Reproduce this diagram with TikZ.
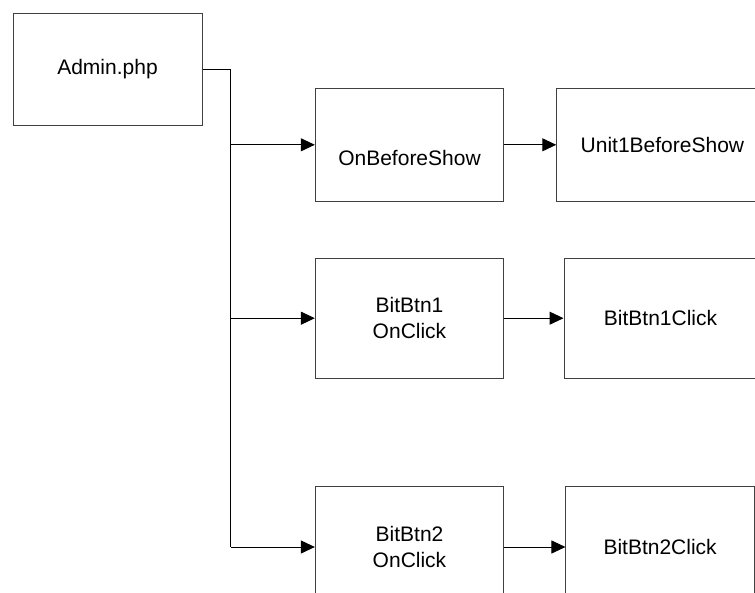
\documentclass[tikz,border=0pt]{standalone}
\usepackage{fontspec}
\setmainfont{Liberation Sans}
\usetikzlibrary{arrows.meta}
\begin{document}
\begin{tikzpicture}[x=1pt,y=-1pt,
  box/.style={draw=black!75,line width=1pt,rectangle,inner sep=0pt,
    align=center,font=\fontsize{21}{26.5}\selectfont},
  flow/.style={draw=black,line width=1pt,-{Triangle[length=14pt,width=13pt]}},
  link/.style={draw=black,line width=1pt}]
\useasboundingbox (0,0) rectangle (755,592);
\clip (0,0) rectangle (755,592);

% boxes
\node[box,minimum width=189pt,minimum height=112.5pt] (admin) at (107.5,69.3) {Admin.php};
\node[box,minimum width=188.4pt,minimum height=113pt,
  label={[font=\fontsize{21}{26.5}\selectfont,yshift=-13.5pt]center:OnBeforeShow}] (obs) at (409.5,144.8) {};
\node[box,minimum width=211.3pt,minimum height=113pt] (u1) at (662.4,144.8) {Unit1BeforeShow};
\node[box,minimum width=188.3pt,minimum height=119.6pt] (b1) at (409.5,318.2) {BitBtn1\\OnClick};
\node[box,minimum width=193pt,minimum height=119.6pt] (b1c) at (660.5,318.2) {BitBtn1Click};
\node[box,minimum width=188.3pt,minimum height=122pt] (b2) at (409.5,547) {BitBtn2\\OnClick};
\node[box,minimum width=188.3pt,minimum height=122pt] (b2c) at (660.1,547) {BitBtn2Click};

% trunk from Admin.php
\coordinate (tTop) at (230.7,69.3);
\coordinate (t1) at (230.7,144.8);
\coordinate (t2) at (230.7,318.2);
\coordinate (t3) at (230.7,547);
\draw[link] (admin.east) -- (tTop) -- (t3);
\draw[flow] (t1) -- (obs.west);
\draw[flow] (t2) -- (b1.west);
\draw[flow] (t3) -- (b2.west);

% second column
\draw[flow] (obs.east) -- (u1.west);
\draw[flow] (b1.east) -- (b1c.west);
\draw[flow] (b2.east) -- (b2c.west);
\end{tikzpicture}
\end{document}
